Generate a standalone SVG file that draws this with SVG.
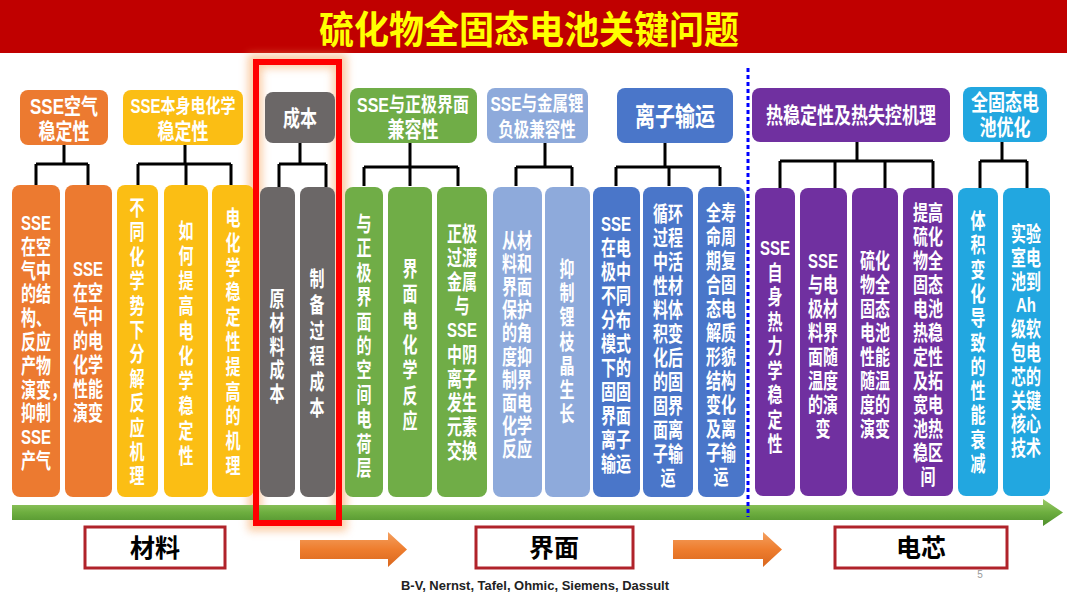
<svg xmlns="http://www.w3.org/2000/svg" width="1067" height="600" viewBox="0 0 1067 600">
<defs>
<style>
.t{font-family:"Liberation Sans","Noto Sans CJK SC",sans-serif;fill:#fff;text-anchor:middle;dominant-baseline:central}
.hdr{font-size:17px;font-weight:bold}
.ct{font-size:15px;font-weight:bold}
.ln{stroke:#000;stroke-width:3;fill:none}
.bx{fill:#fff;stroke:#B0232A;stroke-width:3}
.bt{font-family:"Liberation Sans","Noto Sans CJK SC",sans-serif;font-size:25px;font-weight:bold;fill:#000;text-anchor:middle;dominant-baseline:central}
</style>
<linearGradient id="gArrow" x1="0" y1="0" x2="0" y2="1">
<stop offset="0" stop-color="#9BCB6A"/><stop offset="0.5" stop-color="#6DAE3F"/><stop offset="1" stop-color="#4E8F2C"/>
</linearGradient>
<linearGradient id="oArrow" x1="0" y1="0" x2="0" y2="1">
<stop offset="0" stop-color="#F4A060"/><stop offset="0.5" stop-color="#EE7D2E"/><stop offset="1" stop-color="#D9671E"/>
</linearGradient>
<filter id="glow" x="-30%" y="-10%" width="160%" height="120%"><feGaussianBlur stdDeviation="4"/></filter>
</defs>
<rect width="1067" height="600" fill="#fff"/>
<g id="title">
<rect x="0" y="0" width="1067" height="53" fill="#C00000"/>
<g transform="translate(529,30) scale(1,1.08)"><text x="0" y="0" font-family="'Liberation Sans','Noto Sans CJK SC',sans-serif" font-size="35" font-weight="bold" fill="#FFFF00" text-anchor="middle" dominant-baseline="central">硫化物全固态电池关键问题</text></g>
</g>

<g id="highlight-glow">
<rect x="255" y="61" width="85" height="463" fill="none" stroke="#F7A35C" stroke-width="14" opacity="0.55" filter="url(#glow)"/>
</g>

<g id="connectors">
<path class="ln" d="M64 145V164M36 164H88M36 164V186M88 164V186"/>
<path class="ln" d="M185 145V164M138 164H231M138 164V186M186 164V186M231 164V186"/>
<path class="ln" d="M300 143V164M279 164H326M279 164V187M326 164V187"/>
<path class="ln" d="M410 143V167M364 167H458M364 167V186M410 167V186M458 167V186"/>
<path class="ln" d="M545 143V167M516 167H572M516 167V186M572 167V186"/>
<path class="ln" d="M665 143V167M616 167H720M616 167V186M669 167V186M720 167V186"/>
<path class="ln" d="M857 142V161M780 161H933M780 161V188M835 161V188M885 161V188M933 161V188"/>
<path class="ln" d="M1002 142V161M980 161H1027M980 161V188M1027 161V188"/>
</g>

<g id="h1"><rect x="20" y="90" width="88" height="55" rx="8" fill="#EC7A30"/>
<g transform="translate(64,106) scale(1,1.3)"><text class="t hdr"><tspan x="0" y="0">SSE空气</tspan><tspan x="0" y="19.2">稳定性</tspan></text></g></g>
<g id="h2"><rect x="123" y="90" width="120" height="55" rx="8" fill="#FBBE14"/>
<g transform="translate(183,106) scale(1,1.3)"><text class="t hdr"><tspan x="0" y="0" style="font-size:15px">SSE本身电化学</tspan><tspan x="0" y="19.2">稳定性</tspan></text></g></g>
<g id="h3"><rect x="265" y="92" width="70" height="51" rx="8" fill="#6B6767"/>
<g transform="translate(300,118) scale(1,1.3)"><text class="t hdr"><tspan x="0" y="0">成本</tspan></text></g></g>
<g id="h4"><rect x="350" y="88" width="127" height="55" rx="8" fill="#70AD47"/>
<g transform="translate(413,104) scale(1,1.3)"><text class="t hdr"><tspan x="0" y="0" style="font-size:16px">SSE与正极界面</tspan><tspan x="0" y="19.6">兼容性</tspan></text></g></g>
<g id="h5"><rect x="487" y="88" width="101" height="55" rx="8" fill="#8EAADB"/>
<g transform="translate(537,104) scale(1,1.3)"><text class="t hdr" style="font-size:15.5px"><tspan x="0" y="0">SSE与金属锂</tspan><tspan x="0" y="20">负极兼容性</tspan></text></g></g>
<g id="h6"><rect x="617" y="88" width="116" height="55" rx="8" fill="#4A76C9"/>
<g transform="translate(675,117) scale(1,1.3)"><text class="t hdr" style="font-size:20px"><tspan x="0" y="0">离子输运</tspan></text></g></g>
<g id="h7"><rect x="752" y="88" width="198" height="54" rx="8" fill="#7030A0"/>
<g transform="translate(851,115) scale(1,1.3)"><text class="t hdr"><tspan x="0" y="0">热稳定性及热失控机理</tspan></text></g></g>
<g id="h8"><rect x="963" y="87" width="84" height="55" rx="8" fill="#22A7E0"/>
<g transform="translate(1005,102) scale(1,1.3)"><text class="t hdr"><tspan x="0" y="0">全固态电</tspan><tspan x="0" y="19.6">池优化</tspan></text></g></g>

<g id="c1"><rect x="12" y="185" width="48" height="312" rx="8" fill="#EC7A30"/>
<g transform="translate(36,222) scale(1,1.4)"><text class="t ct"><tspan x="0" y="0">SSE</tspan><tspan x="0" dy="17">在空</tspan><tspan x="0" dy="17">气中</tspan><tspan x="0" dy="17">的结</tspan><tspan x="0" dy="17">构、</tspan><tspan x="0" dy="17">反应</tspan><tspan x="0" dy="17">产物</tspan><tspan x="7.5" dy="17">演变，</tspan><tspan x="0" dy="17">抑制</tspan><tspan x="0" dy="17">SSE</tspan><tspan x="0" dy="17">产气</tspan></text></g></g>
<g id="c2"><rect x="65" y="185" width="47" height="312" rx="8" fill="#EC7A30"/>
<g transform="translate(88,268) scale(1,1.4)"><text class="t ct"><tspan x="0" y="0">SSE</tspan><tspan x="0" dy="17.14">在空</tspan><tspan x="0" dy="17.14">气中</tspan><tspan x="0" dy="17.14">的电</tspan><tspan x="0" dy="17.14">化学</tspan><tspan x="0" dy="17.14">性能</tspan><tspan x="0" dy="17.14">演变</tspan></text></g></g>
<g id="c3"><rect x="117" y="185" width="41" height="312" rx="8" fill="#FBBE14"/>
<g transform="translate(137,207) scale(1,1.4)"><text class="t ct"><tspan x="0" y="0">不</tspan><tspan x="0" dy="17.43">同</tspan><tspan x="0" dy="17.43">化</tspan><tspan x="0" dy="17.43">学</tspan><tspan x="0" dy="17.43">势</tspan><tspan x="0" dy="17.43">下</tspan><tspan x="0" dy="17.43">分</tspan><tspan x="0" dy="17.43">解</tspan><tspan x="0" dy="17.43">反</tspan><tspan x="0" dy="17.43">应</tspan><tspan x="0" dy="17.43">机</tspan><tspan x="0" dy="17.43">理</tspan></text></g></g>
<g id="c4"><rect x="164" y="185" width="44" height="312" rx="8" fill="#FBBE14"/>
<g transform="translate(186,230) scale(1,1.4)"><text class="t ct"><tspan x="0" y="0">如</tspan><tspan x="0" dy="17.86">何</tspan><tspan x="0" dy="17.86">提</tspan><tspan x="0" dy="17.86">高</tspan><tspan x="0" dy="17.86">电</tspan><tspan x="0" dy="17.86">化</tspan><tspan x="0" dy="17.86">学</tspan><tspan x="0" dy="17.86">稳</tspan><tspan x="0" dy="17.86">定</tspan><tspan x="0" dy="17.86">性</tspan></text></g></g>
<g id="c5"><rect x="212" y="185" width="42" height="312" rx="8" fill="#FBBE14"/>
<g transform="translate(233,217) scale(1,1.4)"><text class="t ct"><tspan x="0" y="0">电</tspan><tspan x="0" dy="17.71">化</tspan><tspan x="0" dy="17.71">学</tspan><tspan x="0" dy="17.71">稳</tspan><tspan x="0" dy="17.71">定</tspan><tspan x="0" dy="17.71">性</tspan><tspan x="0" dy="17.71">提</tspan><tspan x="0" dy="17.71">高</tspan><tspan x="0" dy="17.71">的</tspan><tspan x="0" dy="17.71">机</tspan><tspan x="0" dy="17.71">理</tspan></text></g></g>
<g id="c6"><rect x="260" y="187" width="35" height="310" rx="8" fill="#6B6767"/>
<g transform="translate(277,298) scale(1,1.4)"><text class="t ct"><tspan x="0" y="0">原</tspan><tspan x="0" dy="16.96">材</tspan><tspan x="0" dy="16.96">料</tspan><tspan x="0" dy="16.96">成</tspan><tspan x="0" dy="16.96">本</tspan></text></g></g>
<g id="c7"><rect x="300" y="187" width="35" height="310" rx="8" fill="#6B6767"/>
<g transform="translate(317,278) scale(1,1.4)"><text class="t ct"><tspan x="0" y="0">制</tspan><tspan x="0" dy="18.43">备</tspan><tspan x="0" dy="18.43">过</tspan><tspan x="0" dy="18.43">程</tspan><tspan x="0" dy="18.43">成</tspan><tspan x="0" dy="18.43">本</tspan></text></g></g>
<g id="c8"><rect x="345" y="187" width="38" height="310" rx="8" fill="#70AD47"/>
<g transform="translate(364,223) scale(1,1.4)"><text class="t ct"><tspan x="0" y="0">与</tspan><tspan x="0" dy="17.43">正</tspan><tspan x="0" dy="17.43">极</tspan><tspan x="0" dy="17.43">界</tspan><tspan x="0" dy="17.43">面</tspan><tspan x="0" dy="17.43">的</tspan><tspan x="0" dy="17.43">空</tspan><tspan x="0" dy="17.43">间</tspan><tspan x="0" dy="17.43">电</tspan><tspan x="0" dy="17.43">荷</tspan><tspan x="0" dy="17.43">层</tspan></text></g></g>
<g id="c9"><rect x="388" y="187" width="44" height="310" rx="8" fill="#70AD47"/>
<g transform="translate(410,268) scale(1,1.4)"><text class="t ct"><tspan x="0" y="0">界</tspan><tspan x="0" dy="18.07">面</tspan><tspan x="0" dy="18.07">电</tspan><tspan x="0" dy="18.07">化</tspan><tspan x="0" dy="18.07">学</tspan><tspan x="0" dy="18.07">反</tspan><tspan x="0" dy="18.07">应</tspan></text></g></g>
<g id="c10"><rect x="437" y="187" width="50" height="310" rx="8" fill="#70AD47"/>
<g transform="translate(462,233) scale(1,1.4)"><text class="t ct"><tspan x="0" y="0">正极</tspan><tspan x="0" dy="17.21">过渡</tspan><tspan x="0" dy="17.21">金属</tspan><tspan x="0" dy="17.21">与</tspan><tspan x="0" dy="17.21">SSE</tspan><tspan x="0" dy="17.21">中阴</tspan><tspan x="0" dy="17.21">离子</tspan><tspan x="0" dy="17.21">发生</tspan><tspan x="0" dy="17.21">元素</tspan><tspan x="0" dy="17.21">交换</tspan></text></g></g>
<g id="c11"><rect x="493" y="187" width="49" height="310" rx="8" fill="#8EAADB"/>
<g transform="translate(517,240) scale(1,1.4)"><text class="t ct"><tspan x="0" y="0">从材</tspan><tspan x="0" dy="16.5">料和</tspan><tspan x="0" dy="16.5">界面</tspan><tspan x="0" dy="16.5">保护</tspan><tspan x="0" dy="16.5">的角</tspan><tspan x="0" dy="16.5">度抑</tspan><tspan x="0" dy="16.5">制界</tspan><tspan x="0" dy="16.5">面电</tspan><tspan x="0" dy="16.5">化学</tspan><tspan x="0" dy="16.5">反应</tspan></text></g></g>
<g id="c12"><rect x="545" y="187" width="45" height="310" rx="8" fill="#8EAADB"/>
<g transform="translate(567,268) scale(1,1.4)"><text class="t ct"><tspan x="0" y="0">抑</tspan><tspan x="0" dy="17.29">制</tspan><tspan x="0" dy="17.29">锂</tspan><tspan x="0" dy="17.29">枝</tspan><tspan x="0" dy="17.29">晶</tspan><tspan x="0" dy="17.29">生</tspan><tspan x="0" dy="17.29">长</tspan></text></g></g>
<g id="c13"><rect x="593" y="187" width="47" height="310" rx="8" fill="#4A76C9"/>
<g transform="translate(616,223) scale(1,1.4)"><text class="t ct"><tspan x="0" y="0">SSE</tspan><tspan x="0" dy="17.14">在电</tspan><tspan x="0" dy="17.14">极中</tspan><tspan x="0" dy="17.14">不同</tspan><tspan x="0" dy="17.14">分布</tspan><tspan x="0" dy="17.14">模式</tspan><tspan x="0" dy="17.14">下的</tspan><tspan x="0" dy="17.14">固固</tspan><tspan x="0" dy="17.14">界面</tspan><tspan x="0" dy="17.14">离子</tspan><tspan x="0" dy="17.14">输运</tspan></text></g></g>
<g id="c14"><rect x="643" y="187" width="50" height="310" rx="8" fill="#4A76C9"/>
<g transform="translate(668,213) scale(1,1.4)"><text class="t ct"><tspan x="0" y="0">循环</tspan><tspan x="0" dy="17.14">过程</tspan><tspan x="0" dy="17.14">中活</tspan><tspan x="0" dy="17.14">性材</tspan><tspan x="0" dy="17.14">料体</tspan><tspan x="0" dy="17.14">积变</tspan><tspan x="0" dy="17.14">化后</tspan><tspan x="0" dy="17.14">的固</tspan><tspan x="0" dy="17.14">固界</tspan><tspan x="0" dy="17.14">面离</tspan><tspan x="0" dy="17.14">子输</tspan><tspan x="0" dy="17.14">运</tspan></text></g></g>
<g id="c15"><rect x="698" y="187" width="47" height="310" rx="8" fill="#4A76C9"/>
<g transform="translate(721,212) scale(1,1.4)"><text class="t ct"><tspan x="0" y="0">全寿</tspan><tspan x="0" dy="17.14">命周</tspan><tspan x="0" dy="17.14">期复</tspan><tspan x="0" dy="17.14">合固</tspan><tspan x="0" dy="17.14">态电</tspan><tspan x="0" dy="17.14">解质</tspan><tspan x="0" dy="17.14">形貌</tspan><tspan x="0" dy="17.14">结构</tspan><tspan x="0" dy="17.14">变化</tspan><tspan x="0" dy="17.14">及离</tspan><tspan x="0" dy="17.14">子输</tspan><tspan x="0" dy="17.14">运</tspan></text></g></g>
<g id="c16"><rect x="755" y="188" width="40" height="308" rx="8" fill="#7030A0"/>
<g transform="translate(775,247) scale(1,1.4)"><text class="t ct"><tspan x="0" y="0">SSE</tspan><tspan x="0" dy="17.5">自</tspan><tspan x="0" dy="17.5">身</tspan><tspan x="0" dy="17.5">热</tspan><tspan x="0" dy="17.5">力</tspan><tspan x="0" dy="17.5">学</tspan><tspan x="0" dy="17.5">稳</tspan><tspan x="0" dy="17.5">定</tspan><tspan x="0" dy="17.5">性</tspan></text></g></g>
<g id="c17"><rect x="800" y="188" width="47" height="308" rx="8" fill="#7030A0"/>
<g transform="translate(823,260) scale(1,1.4)"><text class="t ct"><tspan x="0" y="0">SSE</tspan><tspan x="0" dy="17.14">与电</tspan><tspan x="0" dy="17.14">极材</tspan><tspan x="0" dy="17.14">料界</tspan><tspan x="0" dy="17.14">面随</tspan><tspan x="0" dy="17.14">温度</tspan><tspan x="0" dy="17.14">的演</tspan><tspan x="0" dy="17.14">变</tspan></text></g></g>
<g id="c18"><rect x="852" y="188" width="46" height="308" rx="8" fill="#7030A0"/>
<g transform="translate(875,260) scale(1,1.4)"><text class="t ct"><tspan x="0" y="0">硫化</tspan><tspan x="0" dy="17.14">物全</tspan><tspan x="0" dy="17.14">固态</tspan><tspan x="0" dy="17.14">电池</tspan><tspan x="0" dy="17.14">性能</tspan><tspan x="0" dy="17.14">随温</tspan><tspan x="0" dy="17.14">度的</tspan><tspan x="0" dy="17.14">演变</tspan></text></g></g>
<g id="c19"><rect x="903" y="188" width="50" height="308" rx="8" fill="#7030A0"/>
<g transform="translate(928,212) scale(1,1.4)"><text class="t ct"><tspan x="0" y="0">提高</tspan><tspan x="0" dy="17.14">硫化</tspan><tspan x="0" dy="17.14">物全</tspan><tspan x="0" dy="17.14">固态</tspan><tspan x="0" dy="17.14">电池</tspan><tspan x="0" dy="17.14">热稳</tspan><tspan x="0" dy="17.14">定性</tspan><tspan x="0" dy="17.14">及拓</tspan><tspan x="0" dy="17.14">宽电</tspan><tspan x="0" dy="17.14">池热</tspan><tspan x="0" dy="17.14">稳区</tspan><tspan x="0" dy="17.14">间</tspan></text></g></g>
<g id="c20"><rect x="958" y="188" width="40" height="308" rx="8" fill="#22A7E0"/>
<g transform="translate(978,220) scale(1,1.4)"><text class="t ct"><tspan x="0" y="0">体</tspan><tspan x="0" dy="17.36">积</tspan><tspan x="0" dy="17.36">变</tspan><tspan x="0" dy="17.36">化</tspan><tspan x="0" dy="17.36">导</tspan><tspan x="0" dy="17.36">致</tspan><tspan x="0" dy="17.36">的</tspan><tspan x="0" dy="17.36">性</tspan><tspan x="0" dy="17.36">能</tspan><tspan x="0" dy="17.36">衰</tspan><tspan x="0" dy="17.36">减</tspan></text></g></g>
<g id="c21"><rect x="1003" y="188" width="47" height="308" rx="8" fill="#22A7E0"/>
<g transform="translate(1026,233) scale(1,1.4)"><text class="t ct"><tspan x="0" y="0">实验</tspan><tspan x="0" dy="17">室电</tspan><tspan x="0" dy="17">池到</tspan><tspan x="0" dy="17">Ah</tspan><tspan x="0" dy="17">级软</tspan><tspan x="0" dy="17">包电</tspan><tspan x="0" dy="17">芯的</tspan><tspan x="0" dy="17">关键</tspan><tspan x="0" dy="17">核心</tspan><tspan x="0" dy="17">技术</tspan></text></g></g>

<g id="timeline-arrow">
<polygon points="12,505 1043,505 1043,499 1063,512.5 1043,526 1043,520 12,520" fill="url(#gArrow)"/>
</g>

<g id="divider">
<line x1="748" y1="68" x2="748" y2="517" stroke="#0000FF" stroke-width="3" stroke-dasharray="4 3"/>
</g>

<g id="highlight">
<rect x="256" y="62" width="83" height="461" fill="none" stroke="#FF0000" stroke-width="6"/>
</g>

<g id="stage-materials"><rect class="bx" x="85" y="527" width="140" height="41"/><text class="bt" x="155" y="548">材料</text></g>
<g id="stage-interface"><rect class="bx" x="476" y="527" width="157" height="41"/><text class="bt" x="554" y="548">界面</text></g>
<g id="stage-cell"><rect class="bx" x="835" y="527" width="172" height="41"/><text class="bt" x="921" y="548">电芯</text></g>

<g id="flow-arrows">
<polygon points="300,540 388,540 388,532 407,549.5 388,567 388,559 300,559" fill="url(#oArrow)"/>
<polygon points="673,540 763,540 763,532 782,549.5 763,567 763,559 673,559" fill="url(#oArrow)"/>
</g>

<text x="980" y="574" font-family="'Liberation Sans',sans-serif" font-size="10" fill="#999" text-anchor="middle" dominant-baseline="central">5</text>
<text x="535" y="586" font-family="'Liberation Sans',sans-serif" font-size="12" font-weight="bold" fill="#222" text-anchor="middle" dominant-baseline="central" textLength="268" lengthAdjust="spacingAndGlyphs">B-V, Nernst, Tafel, Ohmic, Siemens, Dassult</text>
</svg>
